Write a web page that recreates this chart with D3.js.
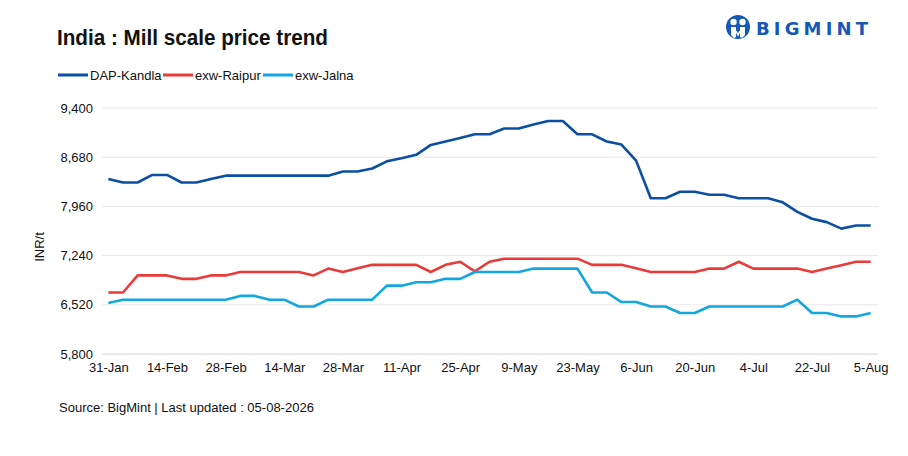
<!DOCTYPE html>
<html>
<head>
<meta charset="utf-8">
<script src="https://cdn.jsdelivr.net/npm/d3@7"></script>
<style>
  body { margin: 0; background: #fff; }
  text { font-family: "Liberation Sans", Arial, sans-serif; fill: #111; }
</style>
</head>
<body>
<svg id="chart" width="908" height="456"></svg>
<script>
// dates (twice a week), labels shown every 4th one
var dates = ['31-Jan', '3-Feb', '7-Feb', '10-Feb', '14-Feb', '17-Feb', '21-Feb', '24-Feb', '28-Feb',
    '3-Mar', '7-Mar', '10-Mar', '14-Mar', '17-Mar', '21-Mar', '24-Mar', '28-Mar', '31-Mar',
    '4-Apr', '7-Apr', '11-Apr', '14-Apr', '18-Apr', '21-Apr', '25-Apr', '28-Apr',
    '2-May', '5-May', '9-May', '12-May', '16-May', '19-May', '23-May', '26-May', '30-May',
    '2-Jun', '6-Jun', '9-Jun', '13-Jun', '16-Jun', '20-Jun', '23-Jun', '27-Jun', '30-Jun',
    '4-Jul', '8-Jul', '11-Jul', '18-Jul', '22-Jul', '25-Jul', '29-Jul', '1-Aug', '5-Aug'];

var kandla = [8360, 8310, 8310, 8420, 8420, 8310, 8310, 8360, 8410, 8410, 8410, 8410, 8410, 8410, 8410, 8410,
    8470, 8470, 8515, 8620, 8665, 8715, 8860, 8910, 8960, 9015, 9015, 9100, 9100, 9160, 9210, 9210,
    9015, 9015, 8910, 8865, 8630, 8080, 8080, 8175, 8175, 8130, 8130, 8080, 8080, 8080, 8020, 7880,
    7780, 7730, 7635, 7680, 7680];
var raipur = [6700, 6700, 6950, 6950, 6950, 6900, 6900, 6950, 6950, 7000, 7000, 7000, 7000, 7000, 6950, 7050,
    7000, 7055, 7105, 7105, 7105, 7105, 7000, 7105, 7150, 7010, 7150, 7195, 7195, 7195, 7195, 7195,
    7195, 7105, 7105, 7105, 7055, 7000, 7000, 7000, 7000, 7050, 7050, 7150, 7050, 7050, 7050, 7050,
    7000, 7050, 7100, 7150, 7150];
var jalna = [6545, 6595, 6595, 6595, 6595, 6595, 6595, 6595, 6595, 6650, 6650, 6595, 6595, 6495, 6495, 6595,
    6595, 6595, 6595, 6800, 6800, 6850, 6850, 6900, 6900, 7000, 7000, 7000, 7000, 7050, 7050, 7050,
    7050, 6700, 6700, 6560, 6560, 6495, 6495, 6400, 6400, 6495, 6495, 6495, 6495, 6495, 6495, 6595,
    6400, 6400, 6350, 6350, 6400];

var seriesNames = ['DAP-Kandla', 'exw-Raipur', 'exw-Jalna'];
var seriesColors = ['#0b4fa2', '#ea3a3a', '#12a7e0'];
var yTicks = [5800, 6520, 7240, 7960, 8680, 9400];

var svg = d3.select('#chart');

var x = d3.scalePoint().domain(dates).range([101, 878]).padding(0.5);
var y = d3.scaleLinear().domain([5800, 9400]).range([354, 108]);

// grid
svg.append('g').selectAll('line').data(yTicks).enter().append('line')
    .attr('x1', 102).attr('x2', 878)
    .attr('y1', function (d) { return y(d); })
    .attr('y2', function (d) { return y(d); })
    .attr('stroke', function (d) { return d == 5800 ? '#d4d4d4' : '#e8e8e8'; })
    .attr('stroke-width', 1);

// y axis labels
var yAxis = d3.axisLeft(y).tickValues(yTicks).tickSize(0).tickPadding(0)
    .tickFormat(d3.format(','));
var gy = svg.append('g').attr('transform', 'translate(93,0)').call(yAxis);
gy.select('.domain').remove();
gy.selectAll('text').style('font-size', '13px').style('fill', '#111')
    .style('font-family', '"Liberation Sans", Arial, sans-serif');

// x axis labels
var xAxis = d3.axisBottom(x).tickSize(0).tickPadding(0)
    .tickValues(dates.filter(function (d, i) { return i % 4 == 0; }));
var gx = svg.append('g').attr('transform', 'translate(0,363)').call(xAxis);
gx.select('.domain').remove();
gx.selectAll('text').style('font-size', '13px').style('fill', '#111')
    .style('font-family', '"Liberation Sans", Arial, sans-serif');

// lines
var line = d3.line()
    .x(function (d, i) { return x(dates[i]); })
    .y(function (d) { return y(d); });

[kandla, raipur, jalna].forEach(function (s, k) {
    svg.append('path').datum(s)
        .attr('d', line)
        .attr('fill', 'none')
        .attr('stroke', seriesColors[k])
        .attr('stroke-width', 2.6)
        .attr('stroke-linejoin', 'round');
});

// title (condensed look)
svg.append('text').attr('x', 57).attr('y', 45)
    .attr('textLength', 271).attr('lengthAdjust', 'spacingAndGlyphs')
    .style('font-size', '22px').style('font-weight', 'bold')
    .text('India : Mill scale price trend');

// legend
var legendX = [58, 163, 263];
var lg = svg.append('g');
seriesNames.forEach(function (n, k) {
    lg.append('line').attr('x1', legendX[k]).attr('x2', legendX[k] + 30)
        .attr('y1', 75).attr('y2', 75)
        .attr('stroke', seriesColors[k]).attr('stroke-width', 3);
    lg.append('text').attr('x', legendX[k] + 32).attr('y', 79.5)
        .style('font-size', '13px').text(n);
});

// y title
svg.append('text').attr('transform', 'translate(44,247) rotate(-90)')
    .attr('text-anchor', 'middle').style('font-size', '13px').text('INR/t');

// source
svg.append('text').attr('x', 59).attr('y', 412).style('font-size', '13px')
    .text('Source: BigMint | Last updated : 05-08-2026');

// logo
var logo = svg.append('g').attr('transform', 'translate(738,27)');
logo.append('circle').attr('r', 12).attr('fill', '#1658b8');
logo.append('circle').attr('cx', -4.5).attr('cy', -5).attr('r', 3.2).attr('fill', '#fff');
logo.append('circle').attr('cx', 4.5).attr('cy', -5).attr('r', 3.2).attr('fill', '#fff');
logo.append('path').attr('d', 'M-7,0 L-2,0 L-2,10 L-4,11 L-7,8 Z').attr('fill', '#fff');
logo.append('path').attr('d', 'M7,0 L2,0 L2,10 L4,11 L7,8 Z').attr('fill', '#fff');
logo.append('path').attr('d', 'M-2,4 L0,8 L2,4').attr('stroke', '#fff').attr('stroke-width', 1.5).attr('fill', 'none');
svg.append('text').attr('x', 756).attr('y', 35)
    .attr('textLength', 112).attr('lengthAdjust', 'spacing')
    .style('font-family', '"DejaVu Sans", Arial, sans-serif')
    .style('font-size', '18px').style('font-weight', 'bold')
    .style('fill', '#1658b8')
    .text('BIGMINT');
</script>
</body>
</html>
